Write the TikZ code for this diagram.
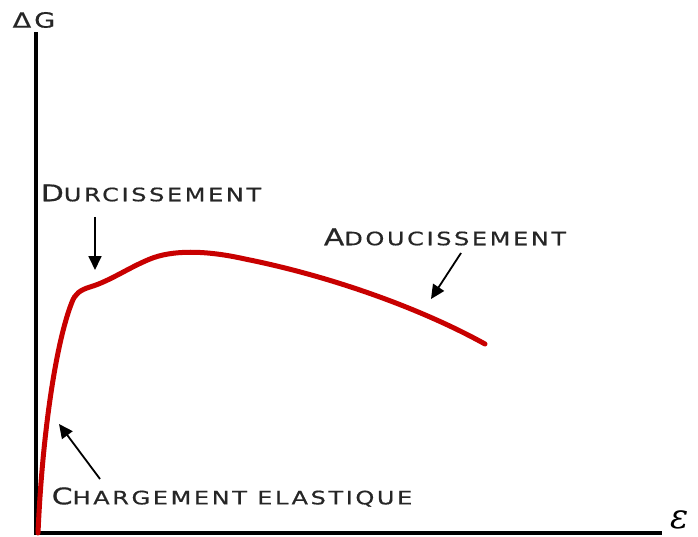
\documentclass[tikz,border=0pt]{standalone}
\usepackage{fontspec}
\newfontfamily\lblfont[LetterSpace=14,FakeStretch=1.3,FakeBold=0.6]{DejaVu Sans}
\newfontfamily\epsfont{DejaVu Serif}
\newcommand\capsc[2]{{\fontsize{23}{25}\lblfont#1}{\fontsize{18.5}{20}\lblfont#2}}
\usetikzlibrary{arrows.meta}
\definecolor{curvered}{RGB}{200,0,0}
\tikzset{
  axis/.style={line width=4pt, line cap=rect},
  curve/.style={line width=5pt, curvered, line cap=round},
  pointer/.style={line width=1.8pt, -{Triangle[length=14pt,width=13pt]}},
  lbl/.style={inner sep=0pt, text=black!85}
}
\begin{document}
\begin{tikzpicture}[x=1pt,y=-1pt]
\useasboundingbox (0,0) rectangle (698,537);
% axes
\coordinate (ytop) at (36,34);
\coordinate (orig) at (36,533);
\coordinate (xend) at (660,533);
\draw[axis] (ytop) -- (orig) -- (xend);
\node[lbl, font=\fontsize{21}{23}\lblfont] (yl) at (34,20) {ΔG};
\node[inner sep=0pt, font=\fontsize{34}{36}\epsfont\itshape] (xl) at (680,520) {ε};
% curve
\draw[curve] (38,533) .. controls (42,440) and (55,345) .. (72,302)
  .. controls (75,294) and (80,290) .. (90,287)
  .. controls (110,281) and (128,268) .. (150,259)
  .. controls (172,250) and (205,250) .. (245,259)
  .. controls (330,276) and (420,308) .. (485,344);
% labels
\node[lbl] (dur) at (151,193) {\capsc{D}{URCISSEMENT}};
\node[lbl] (ado) at (445,237) {\capsc{A}{DOUCISSEMENT}};
\node[lbl] (cha) at (232,497) {\capsc{C}{HARGEMENT ELASTIQUE}};
% pointers
\coordinate (durTail) at (95,217);
\coordinate (durTip) at (95,270);
\coordinate (adoTail) at (461,253);
\coordinate (adoTip) at (431,299);
\coordinate (chaTail) at (100,479);
\coordinate (chaTip) at (59,424);
\draw[pointer] (durTail) -- (durTip);
\draw[pointer] (adoTail) -- (adoTip);
\draw[pointer] (chaTail) -- (chaTip);
\end{tikzpicture}
\end{document}
